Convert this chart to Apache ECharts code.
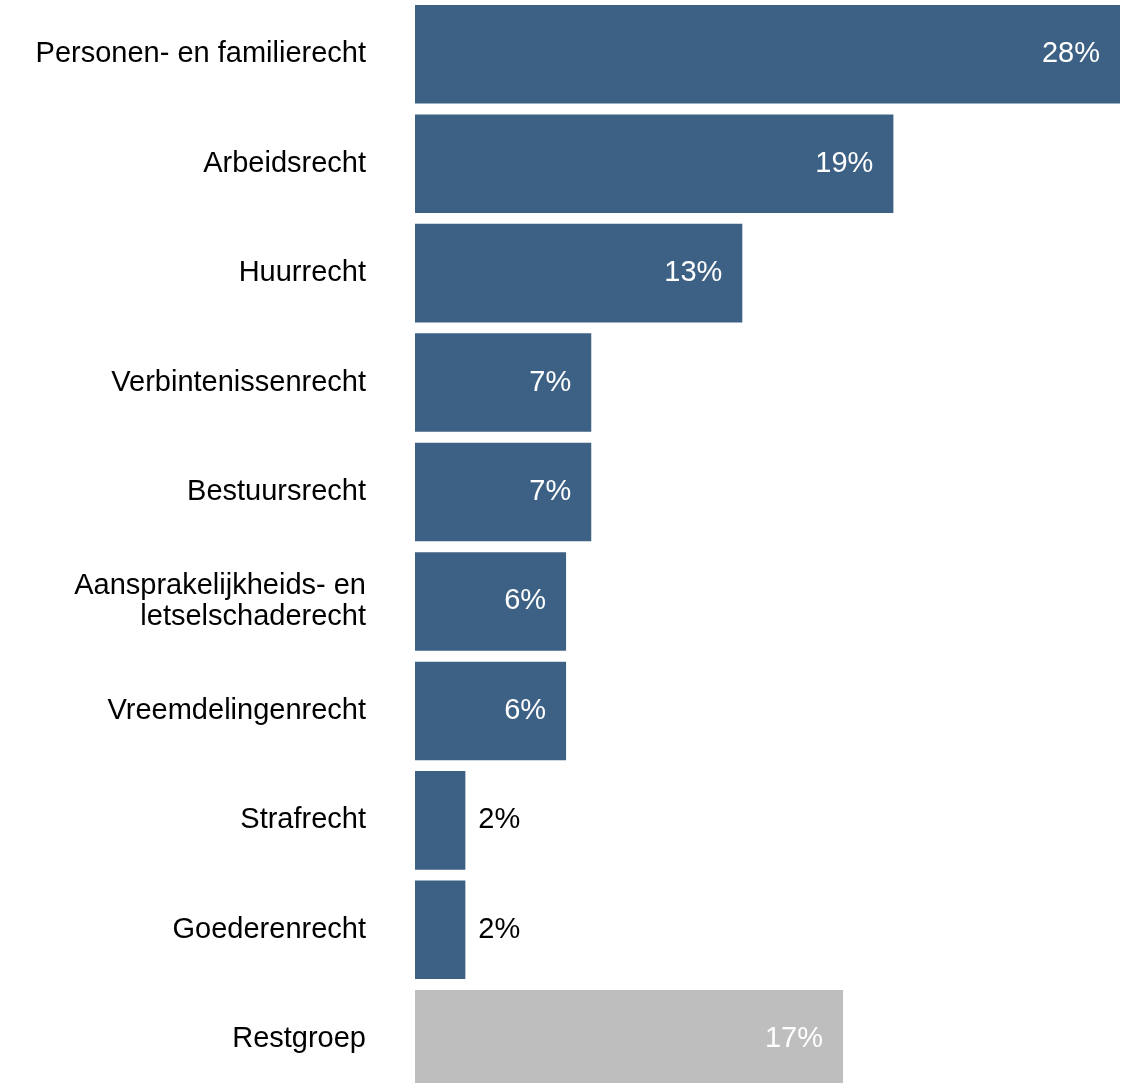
<!DOCTYPE html>
<html><head><meta charset="utf-8">
<script src="https://cdn.jsdelivr.net/npm/echarts@6/dist/echarts.min.js"></script>
<style>html,body{margin:0;padding:0;background:#fff}#c{width:1127px;height:1083px}</style>
</head><body><div id="c"></div>
<script>
const categories = ["Personen- en familierecht","Arbeidsrecht","Huurrecht","Verbintenissenrecht","Bestuursrecht","Aansprakelijkheids- en\nletselschaderecht","Vreemdelingenrecht","Strafrecht","Goederenrecht","Restgroep"];
const values = [28,19,13,7,7,6,6,2,2,17];
const BLUE = "#3d6185", GREY = "#bebebe";
const data = values.map((v,i)=>{
  const isRest = categories[i]==="Restgroep";
  const small = v < 4;
  return {
    value: v,
    itemStyle: {color: isRest ? GREY : BLUE},
    label: small ? {position:"right", distance:13, color:"#000"} : {position:"insideRight", distance:20, color:"#fff"}
  };
});
const chart = echarts.init(document.getElementById('c'), null, {renderer:'canvas'});
chart.setOption({
  animation:false,
  grid:{left:415, width:705, top:-0.5, height:1094.5, containLabel:false, outerBoundsMode:'none'},
  xAxis:{type:'value', min:0, max:28, show:false},
  yAxis:{type:'category', data:categories, inverse:true,
    axisLine:{show:false}, axisTick:{show:false},
    axisLabel:{fontFamily:'Liberation Sans, Arial', fontSize:29, color:'#000', margin:49, lineHeight:31, align:'right', padding:[5,0,0,0]}},
  series:[{type:'bar', data:data, barCategoryGap:'10%',
    label:{show:true, fontFamily:'Liberation Sans, Arial', fontSize:29, padding:[5,0,0,0], formatter:p=>p.value+'%'}}]
});
</script></body></html>
